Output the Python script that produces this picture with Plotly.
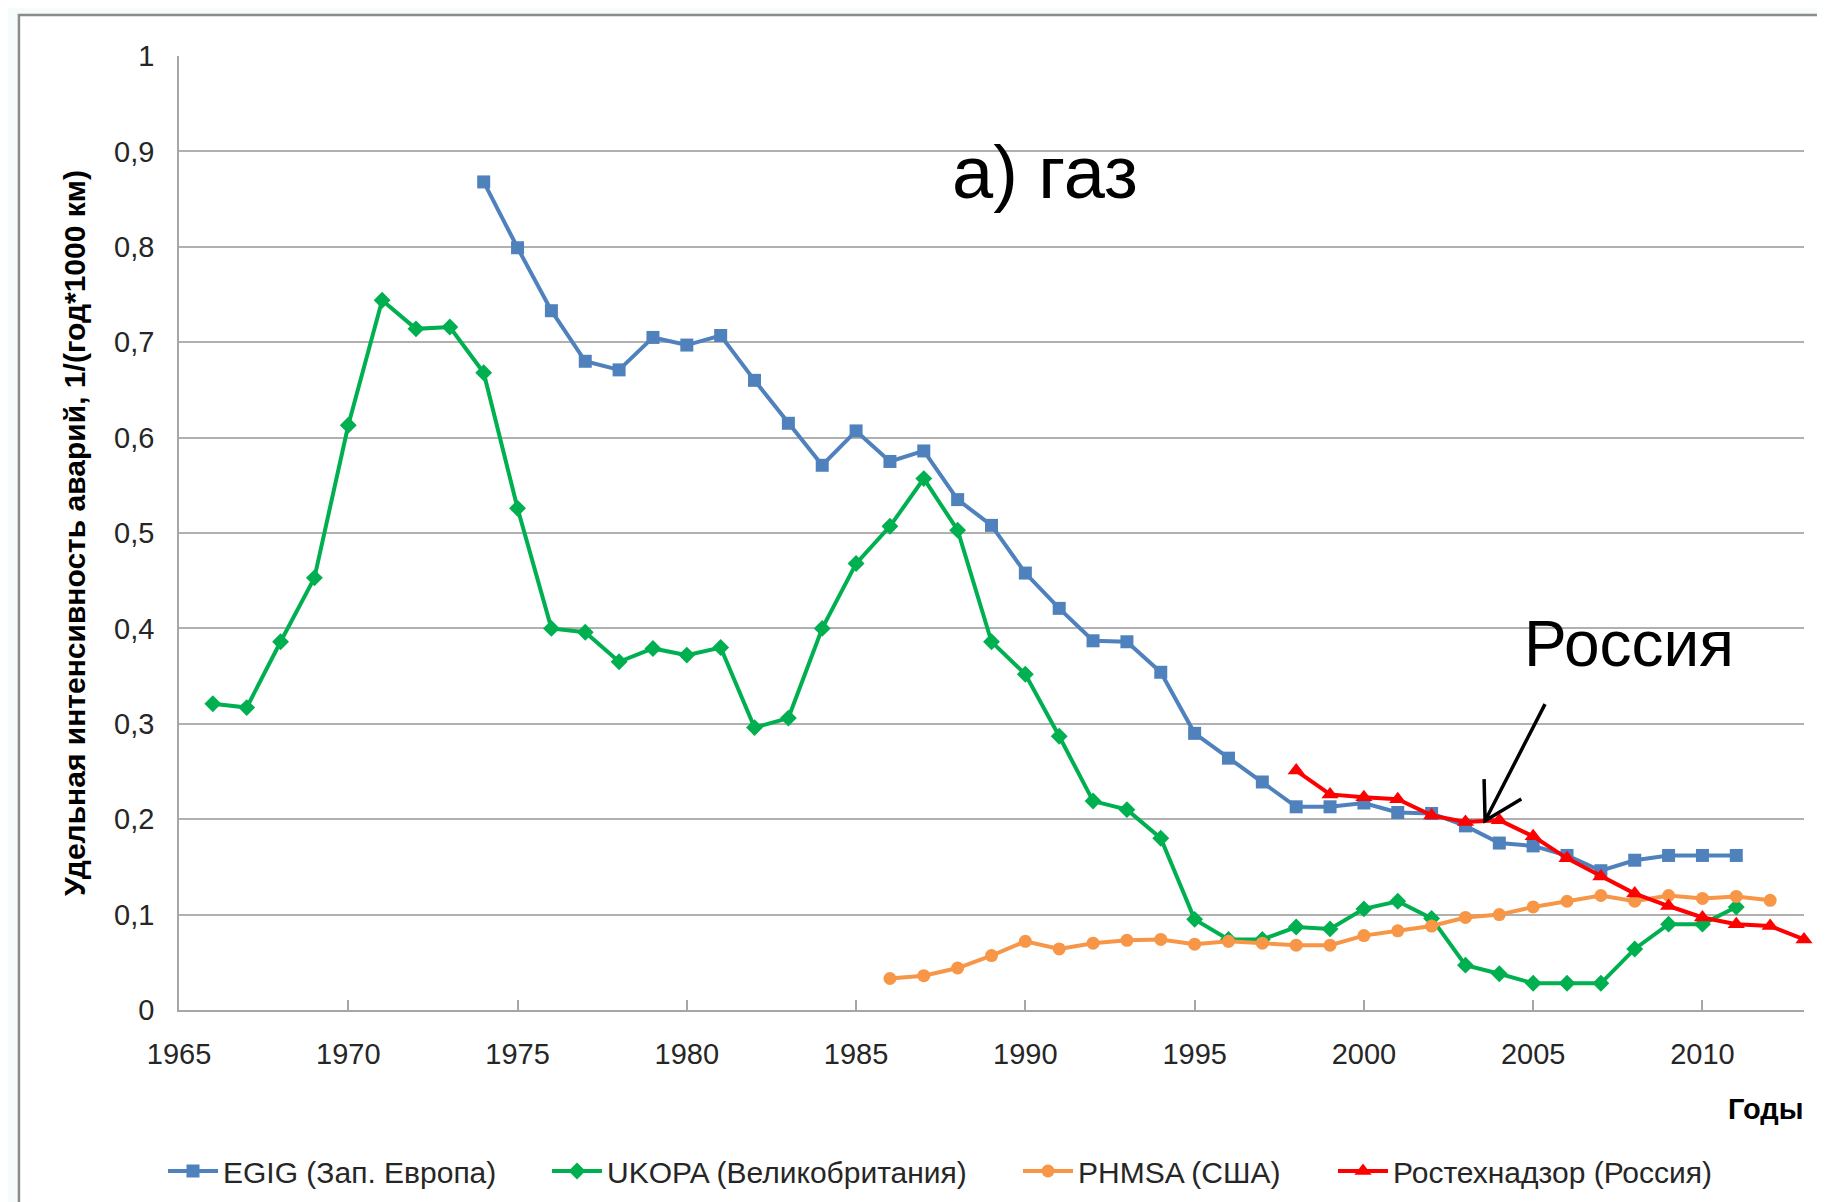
import plotly.graph_objects as go

# years and values
years_egig = list(range(1974, 2012))
egig = [0.868, 0.799, 0.733, 0.680, 0.671, 0.705, 0.697, 0.707, 0.660, 0.615,
        0.571, 0.607, 0.575, 0.586, 0.535, 0.508, 0.458, 0.421, 0.387, 0.386,
        0.354, 0.290, 0.264, 0.239, 0.213, 0.213, 0.217, 0.207, 0.206, 0.193,
        0.175, 0.172, 0.162, 0.146, 0.157, 0.162, 0.162, 0.162]

years_ukopa = list(range(1966, 2012))
ukopa = [0.321, 0.317, 0.386, 0.453, 0.613, 0.744, 0.714, 0.716, 0.668, 0.526,
         0.400, 0.396, 0.365, 0.379, 0.372, 0.380, 0.296, 0.306, 0.400, 0.468,
         0.507, 0.557, 0.503, 0.386, 0.352, 0.287, 0.219, 0.210, 0.180, 0.095,
         0.074, 0.074, 0.087, 0.085, 0.106, 0.114, 0.096, 0.047, 0.038, 0.028,
         0.028, 0.028, 0.064, 0.090, 0.090, 0.108]

years_phmsa = list(range(1986, 2013))
phmsa = [0.033, 0.036, 0.044, 0.057, 0.072, 0.064, 0.070, 0.073, 0.074, 0.069,
         0.072, 0.070, 0.068, 0.068, 0.078, 0.083, 0.088, 0.097, 0.100, 0.108,
         0.114, 0.120, 0.114, 0.120, 0.117, 0.119, 0.115]

years_rtn = list(range(1998, 2014))
rtn = [0.251, 0.226, 0.223, 0.221, 0.204, 0.197, 0.199, 0.182, 0.159, 0.140,
       0.122, 0.109, 0.097, 0.090, 0.088, 0.074]

FONT = 'Liberation Sans, Arial, sans-serif'
TXT = '#262626'
W, H = 1817, 1194  # page body has an 8px margin

series = [
    (years_egig, egig, 'EGIG (Зап. Европа)', '#4F81BD', 'square', 13, 'legend'),
    (years_ukopa, ukopa, 'UKOPA (Великобритания)', '#00B050', 'diamond', 13, 'legend2'),
    (years_phmsa, phmsa, 'PHMSA (США)', '#F79646', 'circle', 13, 'legend3'),
    (years_rtn, rtn, 'Ростехнадзор (Россия)', '#FF0000', 'triangle-up', 15, 'legend4'),
]

fig = go.Figure()
for xs, ys, name, color, symbol, size, leg in series:
    fig.add_trace(go.Scatter(x=xs, y=ys, name=name, mode='lines+markers',
                             line=dict(color=color, width=4),
                             marker=dict(symbol=symbol, size=size, color=color),
                             cliponaxis=False, legend=leg))

# legend entries placed one by one, like the excel legend row
leg_x = [155, 539, 1010, 1325]
legends = {}
for i, lx in enumerate(leg_x):
    key = 'legend' if i == 0 else f'legend{i + 1}'
    legends[key] = dict(xref='container', yref='container', x=lx / W, y=1 - 1163 / H,
                        xanchor='left', yanchor='middle', orientation='h', itemwidth=50,
                        bgcolor='rgba(0,0,0,0)', font=dict(family=FONT, size=30, color=TXT))

fig.update_layout(
    width=W, height=H,
    margin=dict(l=171, r=21, t=48, b=192),
    paper_bgcolor='#f6fbfb', plot_bgcolor='white',
    separators=', ',
    font=dict(family=FONT, size=29, color=TXT),
    showlegend=True,
    **legends,
)

fig.update_xaxes(range=[1965, 2013], tick0=1965, dtick=5, showgrid=False,
                 showline=True, linecolor='#a6a6a6', linewidth=1.5,
                 ticks='inside', ticklen=10, tickcolor='#a6a6a6', tickwidth=1.5,
                 ticklabelstandoff=17, tickfont=dict(size=29, color=TXT), zeroline=False)
fig.update_yaxes(range=[0, 1], dtick=0.1, showgrid=True, gridcolor='#b0b0b0', gridwidth=1.5,
                 showline=True, linecolor='#a6a6a6', linewidth=1.5, zeroline=False,
                 ticklabelstandoff=17, tickfont=dict(size=29, color=TXT),
                 title=dict(text='<b>Удельная интенсивность аварий, 1/(год*1000 км)</b>',
                            font=dict(size=30, color='black'), standoff=20))

# outer frame of the slide
fig.add_shape(type='rect', xref='paper', yref='paper', x0=-0.0985, x1=1.1, y0=-0.4, y1=1.043,
              line=dict(color='#8c8c8c', width=2.5), fillcolor='white', layer='below')

# texts
fig.add_annotation(text='а) газ', xref='paper', yref='paper', x=0.533, y=0.878,
                   xanchor='center', yanchor='middle', showarrow=False,
                   font=dict(family=FONT, size=74, color='black'))
fig.add_annotation(text='Россия', xref='paper', yref='paper', x=0.892, y=0.384,
                   xanchor='center', yanchor='middle', showarrow=False,
                   font=dict(family=FONT, size=64, color='black'))
fig.add_annotation(text='<b>Годы</b>', xref='paper', yref='paper', x=1.001, y=-0.104,
                   xanchor='right', yanchor='middle', showarrow=False,
                   font=dict(family=FONT, size=29, color='black'))

# arrow to the russian series
fig.add_shape(type='path', xref='x', yref='y',
              path='M 2005.35 0.3206 L 2003.58 0.1984 M 2003.55 0.242 L 2003.58 0.1984 L 2004.65 0.2212',
              line=dict(color='black', width=3.5))

fig.write_html('out.html')
